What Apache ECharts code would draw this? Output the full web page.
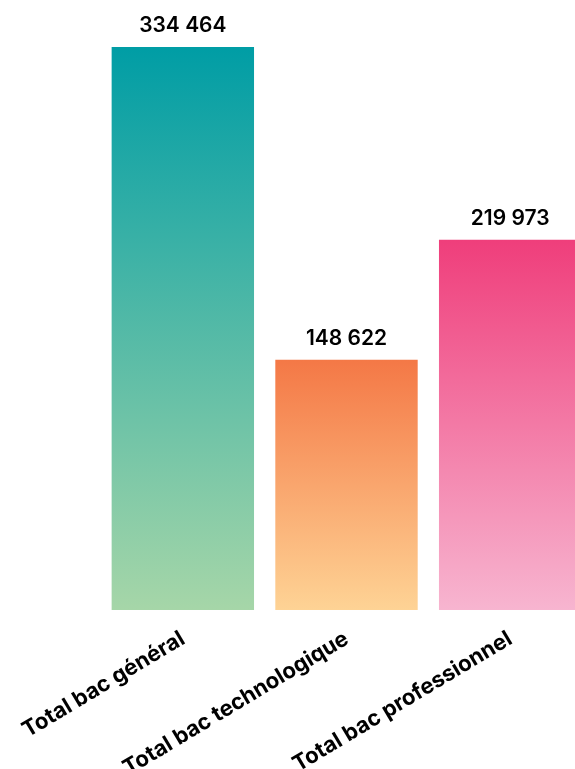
<!DOCTYPE html>
<html>
<head>
<meta charset="utf-8">
<script src="https://cdn.jsdelivr.net/npm/echarts@6/dist/echarts.min.js"></script>
<style>
html,body{margin:0;padding:0;background:#fff;overflow:hidden;width:575px;height:769px;}
#chart{width:592px;height:769px;}
</style>
</head>
<body>
<div id="chart"></div>
<script>
const categories = ['Total bac général', 'Total bac technologique', 'Total bac professionnel'];
const values = [334464, 148622, 219973];
const topColors = ['#009DA5', '#F47846', '#EF3E7B'];
const bottomColors = ['#A6D6A8', '#FED395', '#F7B5D0'];

function fmt(v) {
  return String(v).replace(/\B(?=(\d{3})+(?!\d))/g, ' ');
}

const chart = echarts.init(document.getElementById('chart'), null, {renderer: 'canvas'});
chart.setOption({
  animation: false,
  grid: {left: 101, right: 0, top: 47, bottom: 159, containLabel: false, outerBoundsMode: 'none'},
  xAxis: {
    type: 'category',
    data: categories,
    axisLine: {show: false},
    axisTick: {show: false},
    axisLabel: {
      interval: 0,
      rotate: 31,
      margin: 27,
      color: '#000',
      fontFamily: 'Inter',
      fontWeight: 'bold',
      fontSize: 22
    }
  },
  yAxis: {
    type: 'value',
    min: 0,
    max: 'dataMax',
    show: false
  },
  series: [{
    type: 'bar',
    barCategoryGap: '13%',
    data: values.map((v, i) => ({
      value: v,
      itemStyle: {
        color: new echarts.graphic.LinearGradient(0, 0, 0, 1, [
          {offset: 0, color: topColors[i]},
          {offset: 1, color: bottomColors[i]}
        ])
      }
    })),
    label: {
      show: true,
      position: 'top',
      distance: 11,
      color: '#000',
      fontFamily: 'Inter',
      fontWeight: 600,
      fontSize: 21,
      formatter: p => fmt(p.value)
    }
  }]
});
</script>
</body>
</html>
